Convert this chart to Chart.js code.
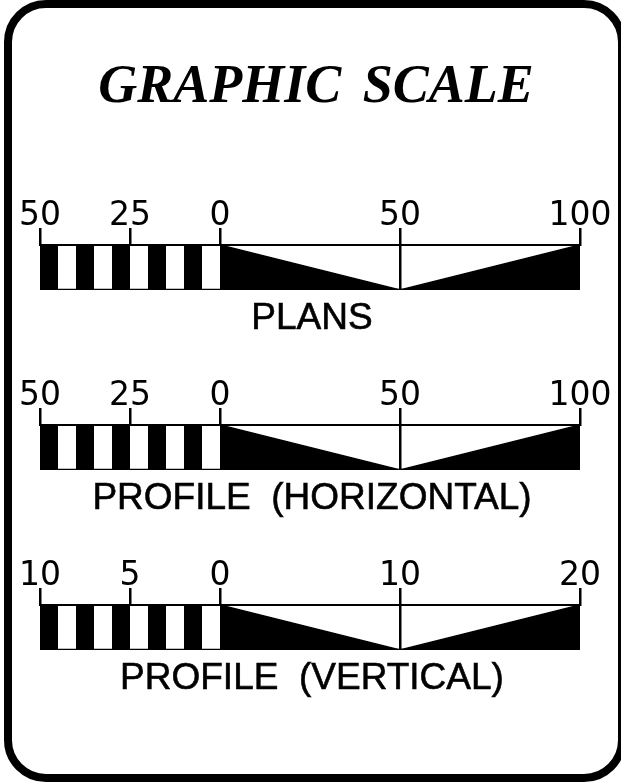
<!DOCTYPE html>
<html>
<head>
<meta charset="utf-8">
<script src="https://cdn.jsdelivr.net/npm/chart.js@4.4.1/dist/chart.umd.min.js"></script>
<style>
html,body{margin:0;padding:0;background:#fff;}
#page{position:relative;width:621px;height:783px;overflow:hidden;background:#fff;}
#frame{position:absolute;left:4px;top:0px;width:622px;height:782px;box-sizing:border-box;border:8px solid #000;border-radius:42px;}
.cap{position:absolute;left:0;width:624px;text-align:center;font-family:'Liberation Sans',Arial,sans-serif;font-size:37px;line-height:37px;white-space:pre;color:#000;-webkit-text-stroke:0.6px #000;}
#title{position:absolute;left:0;top:57px;width:632px;text-align:center;font-family:'Liberation Serif','Times New Roman',serif;font-weight:bold;font-style:italic;font-size:54px;line-height:54px;white-space:pre;word-spacing:8px;color:#000;}
canvas{position:absolute;left:0;}
</style>
</head>
<body>
<div id="page">
  <div id="frame"></div>
  <div id="title">GRAPHIC SCALE</div>
  <canvas id="c0" width="621" height="110" style="top:190px"></canvas>
  <canvas id="c1" width="621" height="110" style="top:370px"></canvas>
  <canvas id="c2" width="621" height="110" style="top:550px"></canvas>
  <div class="cap" id="cap0" style="top:298px"></div>
  <div class="cap" id="cap1" style="top:478px"></div>
  <div class="cap" id="cap2" style="top:658px"></div>
</div>
<script>
// ---- data ----
const captions = ['PLANS', 'PROFILE  (HORIZONTAL)', 'PROFILE  (VERTICAL)'];

const plansTicks = [-50, -25, 0, 50, 100];
const plansChecker = [-50, -45, -40, -35, -30, -25, -20, -15, -10, -5, 0];
const plansWedge = [0, 50, 100];

const horizTicks = [-50, -25, 0, 50, 100];
const horizChecker = [-50, -45, -40, -35, -30, -25, -20, -15, -10, -5, 0];
const horizWedge = [0, 50, 100];

const vertTicks = [-10, -5, 0, 10, 20];
const vertChecker = [-10, -9, -8, -7, -6, -5, -4, -3, -2, -1, 0];
const vertWedge = [0, 10, 20];

const checkerLevels = [1, 0, 1, 0, 1, 0, 1, 0, 1, 0, 0];
const wedgeLevels = [1, 0, 1];

// ---- drawing ----
const scales = [
  {ticks: plansTicks, checker: plansChecker, wedge: plansWedge},
  {ticks: horizTicks, checker: horizChecker, wedge: horizWedge},
  {ticks: vertTicks, checker: vertChecker, wedge: vertWedge}
];

function pts(xs, ys) { return xs.map((x, i) => ({x: x, y: ys[i]})); }

scales.forEach((s, idx) => {
  document.getElementById('cap' + idx).textContent = captions[idx];
  const xmin = s.ticks[0], xmax = s.ticks[s.ticks.length - 1];
  const mid = s.wedge[1];
  new Chart(document.getElementById('c' + idx), {
    type: 'line',
    data: {
      datasets: [
        {
          data: pts(s.checker, checkerLevels),
          stepped: 'before',
          fill: {value: 0},
          backgroundColor: '#000',
          borderColor: 'rgba(0,0,0,0)',
          borderWidth: 0,
          pointRadius: 0
        },
        {
          data: pts(s.wedge, wedgeLevels),
          fill: {value: 0},
          backgroundColor: '#000',
          borderColor: '#000',
          borderWidth: 1.5,
          pointRadius: 0,
          tension: 0
        },
        {
          data: pts([xmin, xmax], [0, 0]),
          fill: false,
          borderColor: '#000',
          borderWidth: 2.5,
          pointRadius: 0
        }
      ]
    },
    options: {
      responsive: false,
      animation: false,
      events: [],
      layout: {padding: {left: 40, right: 41, top: 0, bottom: 10}},
      plugins: {legend: {display: false}, tooltip: {enabled: false}},
      scales: {
        x: {
          type: 'linear',
          position: 'top',
          min: xmin,
          max: xmax,
          afterBuildTicks: (axis) => { axis.ticks = s.ticks.map(v => ({value: v})); },
          afterFit: (axis) => { axis.height = 55; },
          ticks: {
            autoSkip: false,
            maxRotation: 0,
            padding: -2,
            color: '#000',
            font: {family: "'DejaVu Sans', sans-serif", size: 33, lineHeight: 0.8},
            callback: (v) => String(Math.abs(v))
          },
          grid: {
            drawOnChartArea: true,
            drawTicks: true,
            tickLength: 17,
            tickWidth: 2.5,
            tickColor: '#000',
            lineWidth: 2.5,
            color: (ctx) => (ctx.tick && ctx.tick.value === mid) ? '#000' : 'rgba(0,0,0,0)'
          },
          border: {display: true, color: '#000', width: 2}
        },
        y: {
          type: 'linear',
          display: false,
          min: 0,
          max: 1
        }
      }
    }
  });
});
</script>
</body>
</html>
